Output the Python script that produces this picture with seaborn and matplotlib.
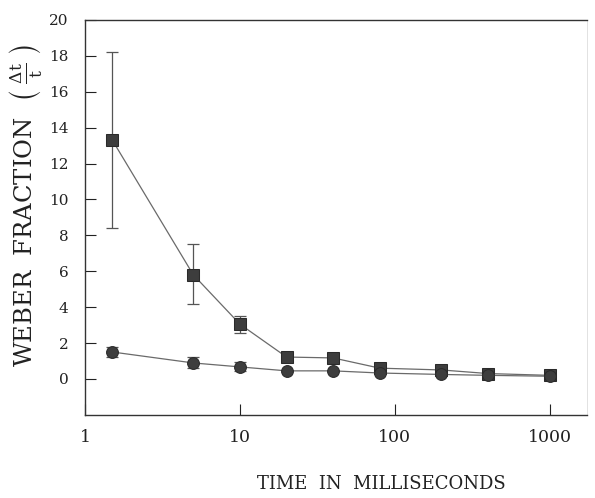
import numpy as np
import pandas as pd
import matplotlib
matplotlib.use("Agg")
import matplotlib.pyplot as plt
import seaborn as sns

# data
time_ms = [1.5, 5, 10, 20, 40, 80, 200, 400, 1000]
square_vals = [13.3, 5.8, 3.05, 1.22, 1.17, 0.6, 0.5, 0.3, 0.2]
circle_vals = [1.5, 0.89, 0.67, 0.45, 0.45, 0.33, 0.25, 0.2, 0.15]

# error bars (lower, upper) for the first three points
err_x = [1.5, 5, 10]
square_lo = [8.4, 4.2, 2.55]
square_hi = [18.2, 7.5, 3.5]
circle_lo = [1.2, 0.6, 0.45]
circle_hi = [1.8, 1.22, 0.94]

y_ticks = list(range(0, 21, 2))
x_ticks = [1, 10, 100, 1000]

sns.set_style("white")
plt.rcParams['font.family'] = ['DejaVu Serif']
plt.rcParams['mathtext.fontset'] = 'dejavuserif'

df = pd.DataFrame({'time': time_ms, 'square': square_vals, 'circle': circle_vals})

fig = plt.figure(figsize=(5.95, 4.98), dpi=100)
ax = fig.add_axes([0.143, 0.167, 0.844, 0.793])

line_col = '#6a6a6a'
mark_col = '#3d3d3d'

sns.lineplot(data=df, x='time', y='square', ax=ax, color=line_col, lw=0.9,
             marker='s', markersize=9, markerfacecolor=mark_col,
             markeredgecolor='#2a2a2a', zorder=3)
sns.lineplot(data=df, x='time', y='circle', ax=ax, color=line_col, lw=0.9,
             marker='o', markersize=8.5, markerfacecolor=mark_col,
             markeredgecolor='#2a2a2a', zorder=3)

sq = np.array(square_vals[:3])
ci = np.array(circle_vals[:3])
ax.errorbar(err_x, sq, yerr=[sq - np.array(square_lo), np.array(square_hi) - sq],
            fmt='none', ecolor='#555555', elinewidth=0.9, capsize=4, capthick=0.9, zorder=2)
ax.errorbar(err_x, ci, yerr=[ci - np.array(circle_lo), np.array(circle_hi) - ci],
            fmt='none', ecolor='#555555', elinewidth=0.9, capsize=4, capthick=0.9, zorder=2)

ax.set_xscale('log')
ax.set_xlim(1, 1750)
ax.set_ylim(-2, 20)
ax.set_xticks(x_ticks)
ax.set_xticklabels([str(t) for t in x_ticks])
ax.xaxis.set_minor_locator(matplotlib.ticker.NullLocator())
ax.set_yticks(y_ticks)
ax.set_yticklabels([str(t) for t in y_ticks])

ax.tick_params(axis='y', direction='in', length=8, width=0.8, pad=12,
               labelsize=11, colors='#222222', left=True)
ax.tick_params(axis='x', direction='in', length=8, width=0.8, pad=10,
               labelsize=12.5, colors='#222222', bottom=True)

for side in ['left', 'bottom', 'top']:
    ax.spines[side].set_color('#333333')
    ax.spines[side].set_linewidth(1.0)
ax.spines['right'].set_color('#dddddd')
ax.spines['right'].set_linewidth(0.6)

ax.set_xlabel('TIME  IN  MILLISECONDS', fontsize=13, color='#222222')
ax.xaxis.set_label_coords(0.59, -0.152)
ax.set_ylabel(r'WEBER  FRACTION  $\left(\;\frac{\Delta\mathrm{t}}{\mathrm{t}}\;\right)$',
              fontsize=17.5, color='#222222')
ax.yaxis.set_label_coords(-0.082, 0.53)

fig.savefig('out.png', dpi=100)
